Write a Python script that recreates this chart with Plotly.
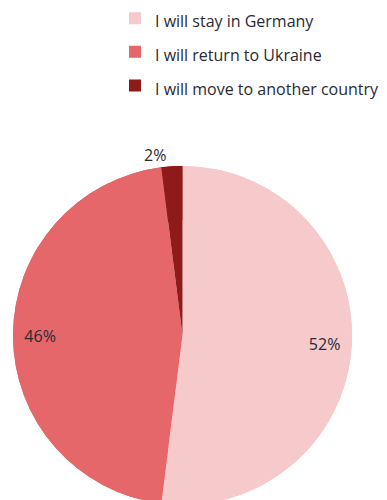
import plotly.graph_objects as go

categories = ["I will stay in Germany", "I will return to Ukraine", "I will move to another country"]
values = [52, 46, 2]
colors = ["#F6C9CB", "#E5676A", "#8F1A1A"]
text_positions = ["inside", "inside", "outside"]

W, H = 387, 500
# the page body adds an 8px offset; domain chosen so the pie lands at the reference spot
dom = dict(x=[5 / W, 344 / W], y=[3 / H, 342 / H])

legend_labels = [f"<span style='font-size:16px'>{c}</span>" for c in categories]

# full pie (background, no text)
base = go.Pie(
    labels=legend_labels,
    values=values,
    sort=False,
    direction="clockwise",
    rotation=0,
    marker=dict(colors=colors, line=dict(width=0)),
    textinfo="none",
    showlegend=False,
    hoverinfo="skip",
    domain=dom,
)

# ring on top carries the labels at ~0.85 R and the legend
ring = go.Pie(
    labels=legend_labels,
    values=values,
    sort=False,
    direction="clockwise",
    rotation=0,
    hole=0.68,
    marker=dict(colors=colors, line=dict(width=0)),
    texttemplate="%{value}%",
    textposition=text_positions,
    insidetextorientation="horizontal",
    textfont=dict(size=16, color="#2a2a34", family="Open Sans"),
    hoverinfo="label+percent",
    domain=dom,
)

fig = go.Figure([base, ring])

fig.update_layout(
    width=W, height=H,
    margin=dict(l=0, r=0, t=0, b=0, autoexpand=False),
    paper_bgcolor="white",
    font=dict(family="Open Sans", color="#2a2a34"),
    showlegend=True,
    legend=dict(
        x=107 / W, xanchor="left",
        y=1.023, yanchor="top",
        font=dict(size=23.5, color="#2a2a34", family="Open Sans"),
        itemwidth=30,
        bgcolor="rgba(0,0,0,0)",
    ),
)

fig.write_html("out.html")
